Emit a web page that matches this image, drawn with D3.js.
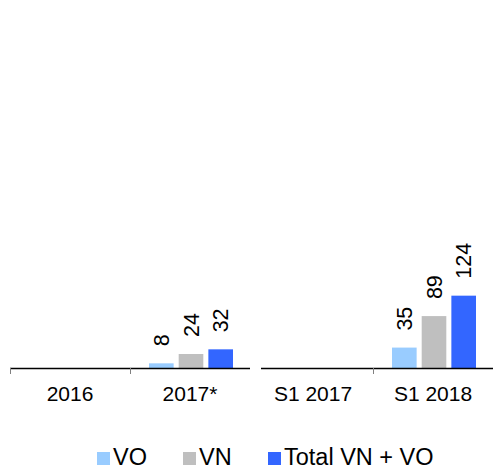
<!DOCTYPE html>
<html>
<head>
<meta charset="utf-8">
<script src="https://cdn.jsdelivr.net/npm/d3@7"></script>
<style>
  body { margin: 0; background: #fff; }
  svg { font-family: "Liberation Sans", Arial, sans-serif; }
</style>
</head>
<body>
<svg id="chart" width="493" height="470"></svg>
<script>
// chart data
const categories = ["2016", "2017*", "S1 2017", "S1 2018"];
const panelGroups = [["2016", "2017*"], ["S1 2017", "S1 2018"]];
const seriesNames = ["VO", "VN", "Total VN + VO"];
const voValues = [null, 8, null, 35];
const vnValues = [null, 24, null, 89];
const totalValues = [null, 32, null, 124];

const colors = ["#99ccff", "#bfbfbf", "#3366ff"];
const seriesValues = [voValues, vnValues, totalValues];

const svg = d3.select("#chart");
const baseY = 368;

// shared value scale
const y = d3.scaleLinear().domain([0, 600]).range([baseY, 18]);

// panel layout
const panels = [
  { cats: panelGroups[0], range: [10, 250], lineStart: 10, lineEnd: 250 },
  { cats: panelGroups[1], range: [253, 493], lineStart: 261, lineEnd: 493 },
];

const inner = d3.scaleBand().domain(seriesNames).range([0, 84]).paddingInner(0.17).paddingOuter(0);

panels.forEach((p) => {
  const x = d3.scaleBand().domain(p.cats).range(p.range).padding(0);
  const g = svg.append("g");

  const rows = [];
  p.cats.forEach((c) => {
    const ci = categories.indexOf(c);
    seriesNames.forEach((s, si) => {
      const v = seriesValues[si][ci];
      if (v != null) rows.push({ cat: c, series: s, si: si, value: v });
    });
  });

  const offset = (x.bandwidth() - (inner.range()[1] - inner.range()[0])) / 2 + 1;

  g.selectAll("rect.bar")
    .data(rows)
    .join("rect")
    .attr("class", "bar")
    .attr("x", (d) => x(d.cat) + offset + inner(d.series))
    .attr("width", inner.bandwidth())
    .attr("y", (d) => y(d.value))
    .attr("height", (d) => baseY - y(d.value))
    .attr("fill", (d) => colors[d.si]);

  // rotated value labels
  g.selectAll("text.val")
    .data(rows)
    .join("text")
    .attr("class", "val")
    .attr("transform", (d) => {
      const cx = x(d.cat) + offset + inner(d.series) + inner.bandwidth() / 2;
      return `translate(${cx},${y(d.value) - 17}) rotate(-90)`;
    })
    .attr("dy", "0.36em")
    .attr("text-anchor", "start")
    .attr("font-size", 21.5)
    .attr("fill", "#000")
    .text((d) => d.value);

  // baseline
  g.append("line")
    .attr("x1", p.lineStart)
    .attr("x2", p.lineEnd)
    .attr("y1", baseY + 0.5)
    .attr("y2", baseY + 0.5)
    .attr("stroke", "#000")
    .attr("stroke-width", 1.3);

  // ticks at band boundaries
  g.selectAll("line.tick")
    .data(p.cats.filter((c) => x(c) >= p.lineStart))
    .join("line")
    .attr("class", "tick")
    .attr("x1", (c) => x(c) + 0.5)
    .attr("x2", (c) => x(c) + 0.5)
    .attr("y1", baseY)
    .attr("y2", baseY + 6)
    .attr("stroke", "#808080")
    .attr("stroke-width", 1);

  // category labels
  g.selectAll("text.cat")
    .data(p.cats)
    .join("text")
    .attr("class", "cat")
    .attr("x", (c) => x(c) + x.bandwidth() / 2)
    .attr("y", 401)
    .attr("text-anchor", "middle")
    .attr("font-size", 21)
    .attr("fill", "#000")
    .text((c) => c);
});

// legend
const legendX = [97, 183, 268];
const legend = svg.append("g");
seriesNames.forEach((s, i) => {
  legend.append("rect")
    .attr("x", legendX[i])
    .attr("y", 452)
    .attr("width", 13)
    .attr("height", 13)
    .attr("fill", colors[i]);
  legend.append("text")
    .attr("x", legendX[i] + 16)
    .attr("y", 465)
    .attr("font-size", 23.5)
    .attr("fill", "#000")
    .text(s);
});
</script>
</body>
</html>
